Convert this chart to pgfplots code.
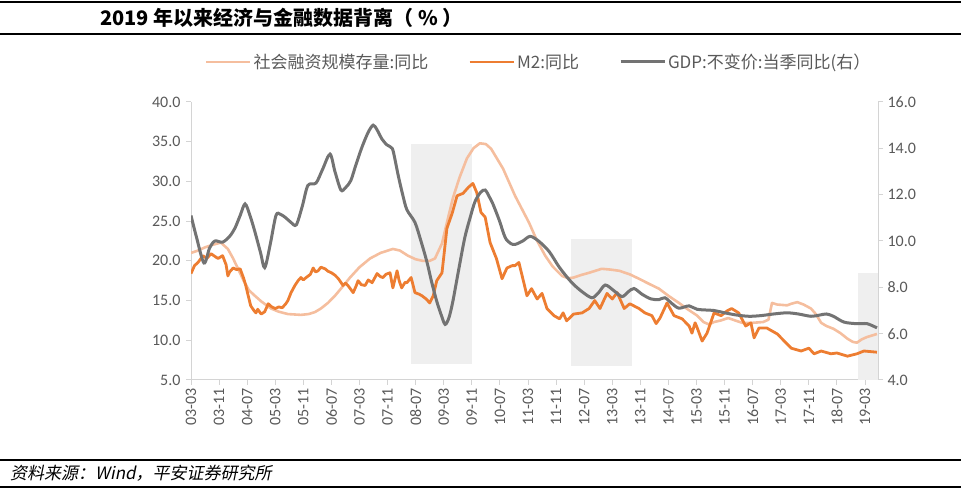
\documentclass[border=0pt]{standalone}
\usepackage{fontspec}
\usepackage{pgfplots}
\pgfplotsset{compat=1.18}
\setmainfont{Carlito}
\newfontfamily\cjk{Noto Sans CJK SC}
\newfontfamily\cjkit{Noto Sans CJK SC}[FakeSlant=0.2]
\definecolor{tsf}{HTML}{F5BE9E}
\definecolor{mtwo}{HTML}{ED7D31}
\definecolor{gdp}{HTML}{737373}
\definecolor{shade}{HTML}{EFEFEF}
\definecolor{axisgray}{HTML}{D4D4D4}
\definecolor{textgray}{HTML}{595959}
\begin{document}
\begin{tikzpicture}[x=1pt,y=1pt]
\path[use as bounding box] (0,0) rectangle (961,490);
\draw[line width=2pt] (0,488) -- (961,488);
\draw[line width=2pt] (0,456) -- (961,456);
\draw[line width=2pt] (0,30) -- (961,30);
\draw[line width=2pt] (0,3.5) -- (961,3.5);
\node[anchor=west, inner sep=0pt] at (100,472) {\cjk\bfseries\fontsize{20}{22}\selectfont 2019 年以来经济与金融数据背离（ \% ）};
\node[anchor=west, inner sep=0pt] at (10,17) {\cjkit\fontsize{17}{19}\selectfont 资料来源：Wind，平安证券研究所};

\begin{axis}[
  at={(191pt,110pt)}, anchor=south west,
  scale only axis, width=687pt, height=278pt,
  xmin=0, xmax=195.7, ymin=5, ymax=40,
  axis x line*=bottom, axis y line*=left,
  axis line style={draw=axisgray, line width=1pt},
  xtick={0,8,...,192},
  xticklabels={03-03,03-11,04-07,05-03,05-11,06-07,07-03,07-11,08-07,09-03,09-11,10-07,11-03,11-11,12-07,13-03,13-11,14-07,15-03,15-11,16-07,17-03,17-11,18-07,19-03},
  x tick label style={rotate=90, anchor=east},
  ytick={5,10,...,40},
  yticklabel style={/pgf/number format/fixed, /pgf/number format/fixed zerofill, /pgf/number format/precision=1, /pgf/number format/assume math mode=true, xshift=-2pt},
  tick align=outside, major tick length=5pt,
  tick style={draw=axisgray, line width=1pt},
  ticklabel style={font=\fontsize{16}{18}\selectfont, text=textgray},
  legend image code/.code={\draw[#1] (0pt,0pt) -- (44pt,0pt);},
  legend style={draw=none, fill=none, inner sep=0pt, at={(0.02,1.144)}, anchor=west,
    font=\cjk\fontsize{17}{19}\selectfont, text=textgray,
    /tikz/every even column/.append style={column sep=38pt}},
  legend columns=3, legend cell align=left,
]
\addplot[fill=shade, draw=none, forget plot] coordinates {(62.7,7.0) (80,7.0) (80,34.7) (62.7,34.7)};
\addplot[fill=shade, draw=none, forget plot] coordinates {(108.3,6.75) (125.6,6.75) (125.6,22.8) (108.3,22.8)};
\addplot[fill=shade, draw=none, forget plot] coordinates {(190,5) (195.7,5) (195.7,18.5) (190,18.5)};

\addplot[tsf, line width=2.6pt, line join=round] coordinates {
(0,21.0)(2,21.3)(4,21.7)(6,22.0)(8.5,22.3)(10.5,21.5)(12,20.3)(13.4,19.0)(15,17.5)(16.5,16.3)(18.2,15.6)(20,14.9)(22.8,14.0)(25,13.6)(27.6,13.3)(31.3,13.2)(33.5,13.3)(35.3,13.55)(37,14.0)(39,14.7)(41,15.6)(42.7,16.5)(45.3,17.9)(48,19.2)(51,20.3)(54,21.0)(57.5,21.5)(59.5,21.3)(61.8,20.65)(64,20.2)(66,20.0)(68,20.0)(69.5,20.3)(71.5,22.2)(73,25.0)(74.6,27.9)(76.5,30.5)(78.6,32.9)(80.5,34.2)(82.3,34.8)(84,34.7)(85.5,34.1)(87,33.0)(88.9,31.6)(90.5,30.0)(92.3,28.2)(94.3,26.5)(96.3,24.8)(98.5,22.6)(100.9,20.65)(103,19.3)(105.7,18.1)(107.5,17.8)(109,17.9)(111,18.2)(113.4,18.5)(117,19.0)(119.5,18.9)(122,18.75)(125,18.3)(127.6,17.75)(130.5,17.1)(133.3,16.5)(136,15.6)(139,14.7)(141.5,13.9)(144.2,13.1)(146,12.3)(147.5,12.0)(149,12.3)(151,12.5)(153,12.8)(155,12.5)(157,12.2)(160,12.2)(163,12.3)(164.5,12.6)(165.5,14.7)(167,14.5)(169.8,14.4)(171,14.6)(172.7,14.8)(174.5,14.5)(176.6,14.0)(178,13.3)(179.5,12.2)(181,11.8)(183,11.45)(185,10.9)(187,10.2)(188.5,9.8)(189.7,9.7)(191,10.1)(192.5,10.4)(194,10.6)(195.4,10.8)
};
\addlegendentry{社会融资规模存量:同比}

\addplot[mtwo, line width=2.8pt, line join=round] coordinates {
(0,18.4)(1,19.4)(2,19.8)(3.4,20.65)(4.5,20.3)(5.7,20.9)(7,20.5)(7.7,20.3)(9,20.65)(10,19.5)(10.5,18.1)(11,18.6)(12,19.1)(13,18.9)(14,19.0)(15,17.8)(15.6,16.9)(16.3,15.6)(17,14.35)(18,13.7)(18.5,13.45)(19,13.9)(20,13.3)(21,13.6)(22,14.6)(23,14.2)(24,14.0)(25,14.2)(26,14.1)(27,14.6)(27.6,15.0)(28.5,16.0)(29.6,16.9)(30.5,17.5)(31.3,17.9)(32,17.6)(32.8,17.9)(34,18.3)(34.8,19.1)(35.5,18.6)(36.2,18.75)(37,19.2)(38.2,19.0)(39,18.7)(40,18.5)(41,18.2)(42,17.75)(43.3,16.9)(44,17.2)(44.7,16.9)(46.2,16.0)(47,16.8)(47.6,17.5)(48.5,17.0)(49.6,16.9)(50.5,17.6)(51.6,17.25)(53,18.4)(54,18.0)(54.7,17.9)(55.5,18.3)(56.7,18.5)(57.5,16.6)(58.7,18.75)(59.3,17.5)(60,16.6)(61,17.3)(61.5,17.25)(62.7,17.9)(63.8,16.0)(65,15.8)(65.8,15.6)(67,15.2)(68,14.7)(69,15.6)(70,17.5)(71.5,18.5)(72.9,24.1)(74.4,26.0)(75.8,28.2)(77.5,28.5)(79,29.25)(80.3,29.75)(81.4,28.6)(82.6,26.1)(83.8,25.5)(85.2,22.3)(87,20.3)(88.6,17.75)(90,19.1)(91.5,19.4)(92.3,19.4)(93.4,19.8)(95,16.9)(95.7,15.6)(97,16.5)(98.6,15.2)(100,15.9)(101.4,14.0)(103.4,13.1)(105,12.7)(106,13.45)(107,12.45)(109,13.3)(111.4,13.45)(113.4,14.0)(115,15.0)(116.5,14.0)(118.5,15.9)(120,15.2)(121.4,16.0)(123.4,14.0)(125,14.6)(127.6,14.0)(129.3,13.45)(131.3,13.1)(132.5,12.1)(133.6,12.8)(135.6,14.7)(137.6,13.1)(139.9,12.7)(141.9,11.8)(142.7,10.9)(143.6,12.2)(144,11.8)(145.6,9.9)(147,10.9)(149,13.45)(151,13.1)(152.7,13.7)(154,14.0)(156,13.45)(158,11.8)(159.5,12.2)(160.4,10.3)(161.8,11.55)(164,11.55)(167,10.8)(169,9.9)(171,9.0)(173.8,8.65)(176,9.0)(177.5,8.3)(179.5,8.65)(182.3,8.3)(184,8.4)(187,8.0)(189.7,8.3)(191.7,8.65)(195.4,8.5)
};
\addlegendentry{M2:同比}
\addlegendimage{gdp, line width=3pt}
\addlegendentry{GDP:不变价:当季同比(右）}
\end{axis}

\begin{axis}[
  at={(191pt,110pt)}, anchor=south west,
  scale only axis, width=687pt, height=278pt,
  xmin=0, xmax=195.7, ymin=4, ymax=16,
  axis x line=none, axis y line*=right,
  axis line style={draw=axisgray, line width=1pt},
  ytick={4,6,...,16},
  yticklabel style={/pgf/number format/fixed, /pgf/number format/fixed zerofill, /pgf/number format/precision=1, /pgf/number format/assume math mode=true, xshift=1pt},
  tick align=outside, major tick length=5pt,
  tick style={draw=axisgray, line width=1pt},
  ticklabel style={font=\fontsize{16}{18}\selectfont, text=textgray},
]
\addplot[gdp, line width=3pt, smooth, tension=0.5] coordinates {
(0,11.1)(1.5,10.2)(3.7,9.05)(5.3,9.7)(6.8,10.0)(9,9.95)(11,10.2)(12.5,10.55)(14,11.1)(15.4,11.6)(16.8,11.1)(18.2,10.4)(19.8,9.5)(21,8.85)(22.5,9.8)(24.2,11.1)(25.5,11.15)(27,11.0)(28.5,10.8)(30,10.7)(31.7,11.5)(33.3,12.4)(35.6,12.5)(37.5,13.1)(39.6,13.75)(41,13.0)(42.7,12.2)(44,12.3)(45.5,12.6)(47,13.3)(48.7,14.05)(50.5,14.7)(51.9,15.0)(53,14.8)(54.4,14.4)(55.8,14.15)(57.3,14.0)(58,13.6)(59,12.85)(60.3,12.0)(61.5,11.35)(63.8,10.8)(65.5,10.0)(67.2,9.1)(68.6,8.2)(70,7.4)(71.3,6.8)(72.4,6.4)(73.5,6.7)(74.6,7.4)(76.3,8.8)(78,10.15)(79.5,11.0)(80.9,11.7)(82.5,12.1)(83.8,12.2)(85,11.9)(86,11.6)(87.8,10.9)(89.5,10.15)(91,9.9)(92.3,9.85)(94.5,10.0)(96.6,10.2)(99,10.0)(102,9.55)(105,8.85)(108.5,8.2)(111.5,7.8)(114.2,7.55)(116,7.75)(118,8.1)(120.5,7.85)(122.8,7.6)(124.5,7.8)(126.2,7.95)(128.5,7.7)(131,7.5)(133.3,7.47)(135,7.55)(137,7.3)(139,7.1)(141.9,7.2)(144.2,7.05)(149,7.0)(152,6.9)(155.6,6.8)(159,6.75)(162.4,6.78)(166,6.85)(169.8,6.9)(173,6.85)(176.6,6.75)(179,6.8)(181,6.85)(183,6.75)(186,6.5)(189.7,6.43)(192.6,6.43)(195.4,6.25)
};
\end{axis}
\end{tikzpicture}
\end{document}
